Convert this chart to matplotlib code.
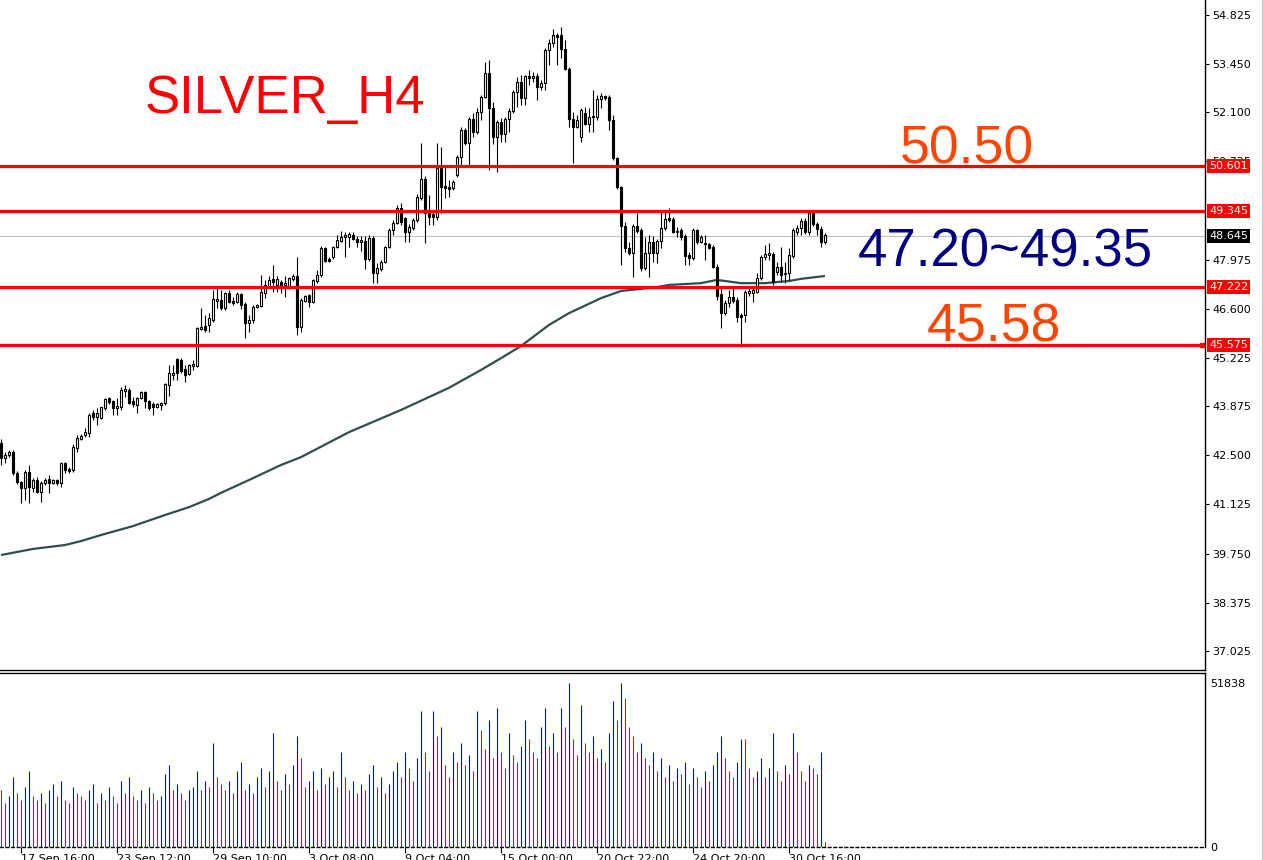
import matplotlib
matplotlib.use('Agg')
import matplotlib.pyplot as plt
from matplotlib.transforms import blended_transform_factory
from matplotlib.lines import Line2D

opens = [42.85, 42.43, 42.51, 42.60, 42.01, 41.75, 41.59, 42.03, 41.59, 41.81,
         41.47, 41.73, 41.84, 41.73, 41.81, 41.73, 42.29, 42.12, 42.09, 42.71,
         42.96, 43.07, 43.13, 43.69, 43.57, 43.55, 43.83, 44.11, 44.02, 43.83,
         43.85, 44.30, 44.33, 44.02, 43.91, 44.11, 44.27, 44.02, 43.94, 43.85,
         43.91, 43.97, 44.47, 44.75, 45.20, 45.17, 44.92, 44.78, 45.00, 45.00,
         46.03, 46.12, 46.15, 46.29, 46.82, 46.85, 46.62, 47.04, 46.82, 46.79,
         47.02, 46.74, 46.21, 46.29, 46.65, 46.68, 47.04, 47.21, 47.44, 47.27,
         47.35, 47.27, 47.21, 47.44, 47.52, 46.09, 46.82, 46.99, 46.79, 47.38,
         47.55, 48.30, 47.99, 48.05, 48.33, 48.50, 48.61, 48.61, 48.67, 48.56,
         48.47, 48.50, 47.99, 48.58, 47.61, 47.72, 47.91, 48.33, 48.81, 49.00,
         49.42, 49.14, 48.75, 48.86, 49.09, 49.70, 50.23, 49.28, 49.26, 49.17,
         50.54, 50.04, 50.01, 49.98, 50.35, 50.85, 51.61, 51.24, 51.91, 51.55,
         52.11, 52.53, 53.20, 52.22, 51.41, 51.83, 51.50, 51.91, 52.14, 52.67,
         52.95, 52.50, 53.12, 53.06, 53.12, 52.81, 52.92, 53.85, 54.04, 54.27,
         54.27, 53.87, 53.31, 51.91, 51.69, 51.41, 52.08, 51.77, 51.97, 51.97,
         52.47, 52.56, 52.53, 51.89, 50.82, 50.01, 48.92, 48.30, 48.16, 48.92,
         48.81, 47.74, 48.16, 48.47, 48.16, 48.50, 48.86, 49.14, 49.12, 48.78,
         48.81, 48.64, 48.11, 48.02, 48.81, 48.47, 48.44, 48.42, 48.33, 47.77,
         47.02, 46.48, 46.76, 46.93, 46.85, 46.43, 46.43, 47.04, 47.04, 47.07,
         47.46, 48.05, 48.11, 48.14, 47.63, 47.77, 47.58, 47.61, 48.08, 48.75,
         48.86, 49.06, 48.75, 49.28, 48.97, 48.84, 48.47]

highs = [42.96, 42.60, 42.65, 42.65, 42.06, 41.78, 42.09, 42.23, 41.87, 41.90,
         41.78, 41.87, 41.95, 41.84, 41.84, 42.32, 42.32, 42.17, 42.82, 43.07,
         43.10, 43.27, 43.69, 43.77, 43.83, 43.85, 44.11, 44.13, 44.05, 44.11,
         44.41, 44.47, 44.39, 44.13, 44.13, 44.30, 44.30, 44.05, 43.99, 43.97,
         43.99, 44.53, 45.03, 45.03, 45.22, 45.22, 45.03, 45.06, 45.17, 46.09,
         46.62, 46.43, 46.49, 47.13, 47.18, 47.13, 47.07, 47.13, 46.93, 47.07,
         47.04, 46.79, 46.43, 46.71, 46.74, 47.55, 47.41, 47.52, 47.83, 47.52,
         47.41, 47.52, 47.49, 47.58, 48.05, 46.90, 46.99, 47.02, 47.44, 47.69,
         48.36, 48.33, 48.05, 48.36, 48.67, 48.77, 48.75, 48.75, 48.75, 48.64,
         48.64, 48.64, 48.67, 48.64, 47.88, 47.97, 48.36, 48.86, 49.09, 49.51,
         49.56, 49.17, 48.97, 49.14, 49.82, 51.24, 50.32, 49.79, 49.31, 51.24,
         51.13, 50.57, 50.21, 50.21, 50.91, 51.69, 51.66, 51.97, 52.08, 52.22,
         52.59, 53.51, 53.57, 52.39, 51.89, 51.94, 51.97, 52.22, 52.73, 53.09,
         53.15, 53.15, 53.29, 53.23, 53.20, 53.01, 53.90, 54.15, 54.43, 54.32,
         54.49, 54.13, 53.37, 52.11, 52.03, 52.22, 52.25, 52.22, 52.73, 52.59,
         52.64, 52.59, 52.59, 52.03, 50.85, 50.04, 49.03, 48.47, 48.97, 49.28,
         48.86, 48.61, 48.67, 48.64, 48.56, 49.31, 49.37, 49.42, 49.17, 48.89,
         48.86, 48.70, 48.19, 48.86, 48.84, 48.67, 48.67, 48.44, 48.39, 47.86,
         47.18, 46.85, 47.13, 47.18, 46.93, 46.49, 47.13, 47.21, 47.18, 47.60,
         48.11, 48.39, 48.44, 48.19, 47.91, 48.33, 47.91, 48.30, 48.86, 48.95,
         49.14, 49.14, 49.31, 49.31, 49.03, 48.92, 48.72]

lows = [42.23, 42.29, 42.45, 41.95, 41.70, 41.17, 41.25, 41.17, 41.47, 41.45,
        41.20, 41.67, 41.45, 41.70, 41.67, 41.62, 42.01, 42.01, 42.03, 42.60,
        42.93, 43.01, 43.01, 43.49, 43.35, 43.52, 43.77, 43.94, 43.63, 43.63,
        43.77, 44.13, 43.94, 43.85, 43.69, 44.08, 43.83, 43.77, 43.63, 43.83,
        43.77, 43.91, 44.16, 44.61, 44.61, 44.80, 44.55, 44.75, 44.89, 44.97,
        46.01, 45.95, 45.95, 46.23, 46.62, 46.57, 46.57, 46.76, 46.71, 46.76,
        46.60, 45.79, 45.95, 46.21, 46.62, 46.65, 46.90, 47.18, 47.07, 47.07,
        47.04, 46.93, 47.16, 47.38, 45.87, 45.95, 46.79, 46.65, 46.76, 47.32,
        47.49, 47.91, 47.91, 47.99, 48.30, 48.47, 48.05, 48.33, 48.53, 48.33,
        48.22, 47.72, 47.94, 47.32, 47.32, 47.66, 47.88, 48.30, 48.67, 48.97,
        48.95, 48.47, 48.47, 48.81, 49.03, 49.65, 48.44, 48.95, 48.95, 49.09,
        49.28, 49.70, 49.73, 49.93, 50.29, 50.63, 51.19, 50.63, 51.41, 51.50,
        51.89, 52.50, 50.49, 51.21, 50.43, 51.27, 51.27, 51.55, 52.08, 52.25,
        52.31, 52.31, 52.87, 52.95, 52.45, 52.73, 52.73, 53.43, 53.93, 53.43,
        53.62, 53.29, 51.69, 50.68, 51.66, 51.27, 51.75, 51.55, 51.55, 51.89,
        52.22, 52.45, 51.61, 50.77, 49.96, 47.83, 48.19, 48.11, 47.49, 48.72,
        47.66, 47.69, 47.49, 47.91, 47.88, 48.30, 48.81, 49.03, 48.72, 48.61,
        48.53, 47.83, 47.83, 47.97, 48.42, 48.44, 47.97, 48.28, 47.74, 46.85,
        46.06, 46.43, 46.65, 46.76, 46.23, 45.53, 46.23, 46.96, 46.79, 47.04,
        47.41, 47.97, 47.97, 47.27, 47.55, 47.35, 47.32, 47.41, 48.02, 48.67,
        48.67, 48.70, 48.67, 48.92, 48.67, 48.33, 48.42]

closes = [42.43, 42.51, 42.60, 42.01, 41.75, 41.59, 42.03, 41.62, 41.81, 41.47,
          41.73, 41.81, 41.73, 41.81, 41.73, 42.29, 42.09, 42.06, 42.73, 42.98,
          43.04, 43.15, 43.63, 43.57, 43.69, 43.85, 44.08, 43.99, 43.83, 43.88,
          44.33, 44.36, 43.97, 43.94, 44.11, 44.27, 44.02, 43.83, 43.85, 43.94,
          43.97, 44.50, 44.80, 44.80, 44.80, 44.86, 44.75, 45.03, 45.06, 46.06,
          46.09, 46.01, 46.35, 46.88, 46.88, 46.62, 47.04, 46.79, 46.76, 47.02,
          46.71, 46.21, 46.29, 46.65, 46.71, 47.07, 47.27, 47.41, 47.35, 47.44,
          47.27, 47.32, 47.46, 47.52, 46.09, 46.85, 46.96, 46.79, 47.41, 47.55,
          48.30, 47.94, 47.94, 48.33, 48.53, 48.61, 48.67, 48.70, 48.56, 48.47,
          48.53, 47.99, 48.58, 47.61, 47.74, 47.91, 48.33, 48.81, 49.00, 49.42,
          49.03, 48.75, 48.89, 49.09, 49.73, 50.23, 49.28, 49.17, 49.17, 50.54,
          50.01, 49.98, 49.96, 50.15, 50.85, 51.61, 51.24, 51.91, 51.55, 52.11,
          52.53, 53.20, 52.22, 51.41, 51.83, 51.50, 51.91, 52.14, 52.67, 52.95,
          52.50, 53.12, 53.06, 53.12, 52.81, 52.92, 53.85, 54.04, 54.27, 54.21,
          53.87, 53.31, 51.91, 51.69, 51.89, 52.17, 51.77, 51.97, 52.00, 52.47,
          52.56, 52.50, 51.89, 50.82, 50.01, 48.92, 48.30, 48.16, 48.92, 48.78,
          47.74, 48.16, 48.47, 48.16, 48.50, 48.86, 49.12, 49.09, 48.75, 48.75,
          48.61, 48.08, 48.02, 48.81, 48.47, 48.61, 48.42, 48.30, 47.77, 46.96,
          46.48, 46.76, 46.93, 46.82, 46.37, 46.37, 47.07, 47.10, 47.13, 47.46,
          48.05, 48.14, 48.16, 47.35, 47.77, 47.55, 47.61, 48.11, 48.81, 48.86,
          49.06, 48.75, 49.28, 48.97, 48.84, 48.47, 48.67]

volumes = [18000, 14000, 16000, 22000, 17000, 15000, 19000, 24000, 16000, 15000,
           17000, 14000, 18000, 20000, 16000, 21000, 15000, 14000, 19000, 17000,
           16000, 15000, 18000, 20000, 14000, 17000, 15000, 19000, 16000, 14000,
           21000, 17000, 22000, 16000, 15000, 18000, 14000, 19000, 17000, 15000,
           16000, 23000, 26000, 18000, 20000, 17000, 15000, 18000, 19000, 24000,
           18000, 21000, 19000, 33000, 22000, 20000, 18000, 21000, 17000, 24000,
           27000, 18000, 20000, 17000, 22000, 25000, 19000, 24000, 36000, 21000,
           18000, 23000, 20000, 26000, 35000, 28000, 19000, 21000, 24000, 18000,
           25000, 20000, 22000, 24000, 19000, 30000, 22000, 18000, 21000, 17000,
           20000, 18000, 23000, 26000, 19000, 22000, 17000, 20000, 24000, 27000,
           22000, 30000, 25000, 21000, 28000, 43000, 30000, 24000, 43000, 35000,
           38000, 26000, 22000, 30000, 27000, 33000, 26000, 29000, 24000, 43000,
           37000, 31000, 40000, 28000, 44000, 30000, 25000, 36000, 29000, 27000,
           32000, 40000, 34000, 30000, 28000, 38000, 44000, 32000, 36000, 30000,
           44000, 38000, 51838, 34000, 29000, 45000, 33000, 30000, 35000, 28000,
           31000, 27000, 36000, 46000, 40000, 51838, 47000, 38000, 35000, 30000,
           33000, 28000, 26000, 30000, 24000, 28000, 22000, 26000, 21000, 25000,
           23000, 27000, 20000, 25000, 22000, 19000, 24000, 21000, 26000, 30000,
           35000, 28000, 24000, 22000, 27000, 34000, 34000, 25000, 22000, 24000,
           28000, 22000, 25000, 36000, 24000, 21000, 26000, 23000, 36000, 30000,
           24000, 21000, 26000, 25000, 23000, 30000, 1500]

ma_idx = [0, 8, 16, 20, 25, 33, 41, 47, 52, 55, 62, 70, 75, 87, 100, 112, 120,
          125, 130, 137, 142, 150, 155, 164, 167, 175, 179, 185, 191, 197, 200, 206]
ma_val = [39.71, 39.88, 39.99, 40.10, 40.27, 40.52, 40.83, 41.05, 41.28, 41.45,
          41.81, 42.23, 42.45, 43.15, 43.77, 44.39, 44.89, 45.22, 45.56, 46.15,
          46.48, 46.90, 47.10, 47.21, 47.27, 47.32, 47.41, 47.32, 47.32, 47.38,
          47.44, 47.52]

price_ticks = [54.825, 53.450, 52.100, 50.725, 47.975, 46.600, 45.225,
               43.875, 42.500, 41.125, 39.750, 38.375, 37.025]
level_lines = [50.601, 49.345, 47.222, 45.575]
last_price = 48.645
vol_max = 51838
date_idx = [5, 29, 53, 77, 101, 125, 149, 173, 197]
date_labels = ["17 Sep 16:00", "23 Sep 12:00", "29 Sep 10:00", "3 Oct 08:00",
               "9 Oct 04:00", "15 Oct 00:00", "20 Oct 22:00", "24 Oct 20:00",
               "30 Oct 16:00"]

W, H = 1263, 860
fig = plt.figure(figsize=(W / 100, H / 100), dpi=100)
fig.patch.set_facecolor('white')


def rect(x0, y0, x1, y1):
    return [x0 / W, 1 - y1 / H, (x1 - x0) / W, (y1 - y0) / H]


ax = fig.add_axes(rect(0, 0, 1205, 670))
axv = fig.add_axes(rect(0, 673, 1205, 847), sharex=ax)

n = len(closes)
xs = list(range(n))

# price panel
ax.axhline(last_price, color='#C0C0C0', lw=0.8, zorder=1)
ax.plot(ma_idx, ma_val, color='#2F4F4F', lw=1.6, zorder=2, solid_capstyle='butt')
ax.vlines(xs, lows, highs, colors='black', lw=0.8, zorder=3)
bw = 0.6
for i in xs:
    o, c = opens[i], closes[i]
    fc = 'white' if c >= o else 'black'
    ax.bar(i, abs(c - o), bottom=min(o, c), width=bw, color=fc,
           edgecolor='black', linewidth=0.8, zorder=4)
for lv in level_lines:
    ax.axhline(lv, color='#FF0000', lw=2.3, zorder=5)
ax.plot([300.2], [45.575], marker='s', ms=3.5, color='#FF0000', zorder=6, clip_on=False)

ax.set_xlim(-0.25, 301)
ax.set_ylim(55.245 - 670 * 0.02799, 55.245)
ax.yaxis.tick_right()
ax.set_yticks(price_ticks)
ax.set_yticklabels([f"{t:.3f}" for t in price_ticks])
ax.tick_params(axis='y', direction='out', length=3, width=0.8, labelsize=8,
               pad=2, colors='black')
ax.tick_params(axis='x', bottom=False, labelbottom=False)
for s in ['left', 'top']:
    ax.spines[s].set_visible(False)
for s in ['right', 'bottom']:
    ax.spines[s].set_linewidth(1.0)
    ax.spines[s].set_color('black')

tr = blended_transform_factory(ax.transAxes, ax.transData)
for lv in level_lines:
    ax.text(1.0035, lv, f"{lv:.3f}", transform=tr, color='white', fontsize=8,
            va='center', ha='left', zorder=10, clip_on=False,
            bbox=dict(boxstyle='square,pad=0.18', fc='#FF0000', ec='none'))
ax.text(1.0035, last_price, f"{last_price:.3f}", transform=tr, color='white',
        fontsize=8, va='center', ha='left', zorder=10, clip_on=False,
        bbox=dict(boxstyle='square,pad=0.18', fc='black', ec='none'))

# volume panel
vcolors = ['#0000FF' if (i > 0 and volumes[i] > volumes[i - 1]) else '#FF0000'
           for i in xs]
axv.vlines(xs, 0, volumes, colors=vcolors, lw=0.8)
axv.set_ylim(0, vol_max * 174 / 164)
axv.yaxis.tick_right()
axv.set_yticks([0, vol_max])
axv.set_yticklabels(['0', str(vol_max)])
axv.tick_params(axis='y', length=0, labelsize=8, pad=4)
axv.set_xticks(date_idx)
axv.set_xticklabels(date_labels, ha='left')
axv.tick_params(axis='x', direction='out', length=4, width=0.8, labelsize=8, pad=1)
axv.spines['left'].set_visible(False)
axv.spines['bottom'].set_linestyle((0, (2, 2)))
for s in ['top', 'right', 'bottom']:
    axv.spines[s].set_linewidth(1.0)
    axv.spines[s].set_color('black')
for lab in axv.get_xticklabels():
    lab.set_horizontalalignment('left')

# annotations
fig.text(145 / W, 1 - 113 / H, 'SILVER_H4', fontsize=38, color='#FF0000',
         family='Liberation Sans', va='baseline', ha='left')
fig.text(900 / W, 1 - 163 / H, '50.50', fontsize=38.5, color='#FF4500',
         family='Liberation Sans', va='baseline', ha='left')
fig.text(858 / W, 1 - 267 / H, '47.20~49.35', fontsize=38, color='#000080',
         family='Liberation Sans', va='baseline', ha='left')
fig.text(927 / W, 1 - 341 / H, '45.58', fontsize=38.5, color='#FF4500',
         family='Liberation Sans', va='baseline', ha='left')

fig.add_artist(Line2D([1261.5 / W, 1261.5 / W], [0, 1], color='#C8C8C8', lw=1))

fig.savefig('out.png', dpi=100)
